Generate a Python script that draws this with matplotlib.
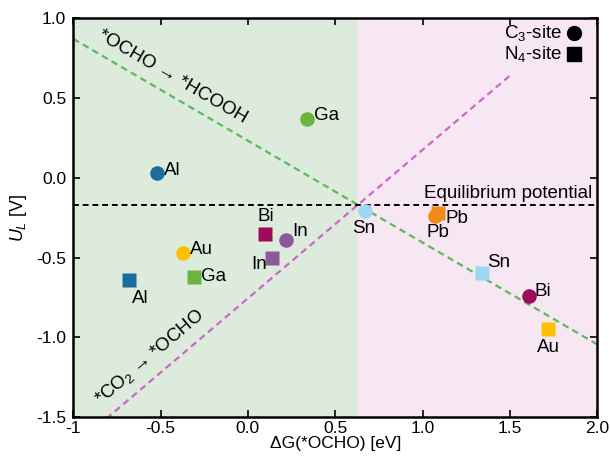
import numpy as np
import matplotlib
matplotlib.use('Agg')
import matplotlib.pyplot as plt

plt.rcParams['font.family'] = ['Liberation Sans', 'DejaVu Sans']
plt.rcParams['mathtext.fontset'] = 'custom'
plt.rcParams['mathtext.rm'] = 'Liberation Sans'
plt.rcParams['mathtext.it'] = 'Liberation Sans:italic'

# C3-site (circles)
c3_names = ['Al', 'Ga', 'Au', 'In', 'Sn', 'Pb', 'Bi']
c3_dg = [-0.52, 0.34, -0.37, 0.22, 0.67, 1.07, 1.61]
c3_ul = [0.03, 0.37, -0.47, -0.39, -0.21, -0.24, -0.74]

# N4-site (squares)
n4_names = ['Al', 'Ga', 'Bi', 'In', 'Pb', 'Sn', 'Au']
n4_dg = [-0.68, -0.31, 0.10, 0.14, 1.09, 1.34, 1.72]
n4_ul = [-0.64, -0.62, -0.35, -0.50, -0.22, -0.60, -0.95]

colors = {'Al': '#1b6e9c', 'Ga': '#6db33f', 'Au': '#ffc000', 'In': '#8a5a9b',
          'Bi': '#9e0a5c', 'Sn': '#9dd7f2', 'Pb': '#f28a1a'}

FS = 13.5

# label offsets (points)
c3_off = {'Al': (5, 2, 'left', 'center'), 'Ga': (5, 2, 'left', 'center'),
          'Au': (5, 2, 'left', 'center'), 'In': (4, 6, 'left', 'center'),
          'Sn': (-1, -6, 'center', 'top'), 'Pb': (2, -6, 'center', 'top'),
          'Bi': (4, 3, 'left', 'center')}
n4_off = {'Al': (2, -7, 'left', 'top'), 'Ga': (5, 0, 'left', 'center'),
          'Bi': (0, 6, 'center', 'bottom'), 'In': (-4, -5, 'right', 'center'),
          'Pb': (5, -4, 'left', 'center'), 'Sn': (4, 8, 'left', 'center'),
          'Au': (0, -7, 'center', 'top')}

x_cross = 0.63
u_eq = -0.17

fig = plt.figure(figsize=(6.1, 4.63), dpi=100)
ax = fig.add_axes([0.12, 0.099, 0.859, 0.862])

ax.axvspan(-1, x_cross, color='#dcebdc', zorder=0)
ax.axvspan(x_cross, 2.0, color='#f7e7f3', zorder=0)

# scaling lines
xg = np.array([-1.0, 2.0])
ax.plot(xg, u_eq - 0.638 * (xg - x_cross), ls=(0, (3, 2)), color='#5cb85c', lw=1.6, zorder=2)
xp = np.array([-0.81, 1.51])
ax.plot(xp, u_eq + 0.93 * (xp - x_cross), ls=(0, (3, 2)), color='#cc66cc', lw=1.6, zorder=2)
ax.axhline(u_eq, ls=(0, (3, 2)), color='black', lw=1.4, zorder=2)

for n, x, y in zip(c3_names, c3_dg, c3_ul):
    ax.plot(x, y, 'o', ms=10.5, color=colors[n], mec='none', zorder=4)
    dx, dy, ha, va = c3_off[n]
    ax.annotate(n, (x, y), xytext=(dx, dy), textcoords='offset points',
                ha=ha, va=va, fontsize=FS, zorder=5)
for n, x, y in zip(n4_names, n4_dg, n4_ul):
    ax.plot(x, y, 's', ms=10, color=colors[n], mec='none', zorder=3)
    dx, dy, ha, va = n4_off[n]
    ax.annotate(n, (x, y), xytext=(dx, dy), textcoords='offset points',
                ha=ha, va=va, fontsize=FS, zorder=5)

ax.text(1.80, 0.905, 'C$_3$-site', ha='right', va='center', fontsize=FS)
ax.plot(1.865, 0.905, 'o', ms=10, color='black')
ax.text(1.80, 0.775, 'N$_4$-site', ha='right', va='center', fontsize=FS)
ax.plot(1.865, 0.775, 's', ms=9.5, color='black')

ax.text(1.97, u_eq + 0.02, 'Equilibrium potential', ha='right', va='bottom', fontsize=FS)
ax.text(-0.43, 0.63, '*OCHO → *HCOOH', rotation=-30.2, rotation_mode='anchor',
        ha='center', va='center', fontsize=FS)
ax.text(-0.56, -1.12, '*CO$_2$ → *OCHO', rotation=40.4, rotation_mode='anchor',
        ha='center', va='center', fontsize=FS)

ax.set_xlim(-1, 2.0)
ax.set_ylim(-1.5, 1.0)
ax.set_xticks([-1, -0.5, 0, 0.5, 1.0, 1.5, 2.0])
ax.set_xticklabels(['-1', '-0.5', '0.0', '0.5', '1.0', '1.5', '2.0'])
ax.set_yticks([-1.5, -1.0, -0.5, 0, 0.5, 1.0])
ax.set_yticklabels(['-1.5', '-1.0', '-0.5', '0.0', '0.5', '1.0'])
ax.tick_params(direction='in', top=True, right=True, labelsize=12.5, length=5, width=1.2)
ax.tick_params(axis='x', pad=3)
ax.tick_params(axis='y', pad=5)
for s in ax.spines.values():
    s.set_linewidth(1.8)
ax.set_xlabel('ΔG(*OCHO) [eV]', fontsize=12.5, labelpad=0)
ax.set_ylabel('$U_L$ [V]', fontsize=13, labelpad=5)

fig.savefig('out.png', dpi=100)
